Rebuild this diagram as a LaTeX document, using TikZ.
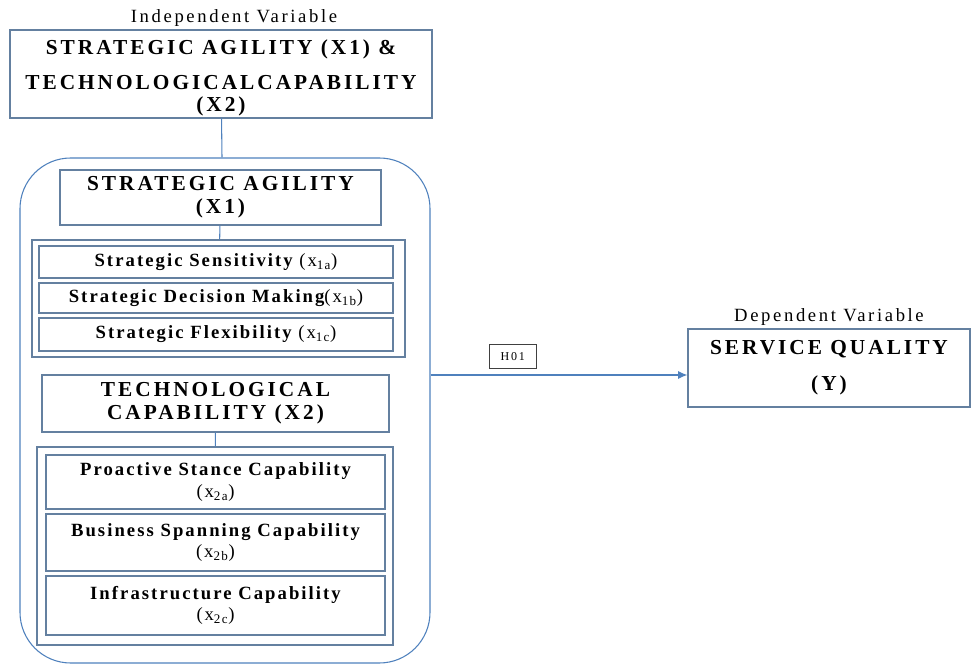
\documentclass[tikz,border=0pt]{standalone}
\usepackage{fontspec}
\setmainfont{Liberation Serif}
\newfontfamily\capfont[LetterSpace=14]{Liberation Serif}
\newfontfamily\itemfont[LetterSpace=11]{Liberation Serif}
\newfontfamily\plainfont[LetterSpace=14]{Liberation Serif}
\newfontfamily\subfont[LetterSpace=10]{Liberation Serif}
\usetikzlibrary{positioning,calc,arrows.meta}
\definecolor{lineblue}{RGB}{79,129,189}
\definecolor{boxedge}{RGB}{100,128,160}
\newcommand{\sub}[2]{{\normalfont\subfont\fontsize{14}{15}\selectfont(#1\textsubscript{#2})}}

\begin{document}
\begin{tikzpicture}[x=0.75pt, y=-0.75pt,
  hbox/.style={draw=boxedge, line width=0.8pt, align=center, inner sep=1pt,
               font=\capfont\bfseries\fontsize{16}{17}\selectfont},
  item/.style={draw=boxedge, line width=0.8pt, align=center, inner sep=1pt,
               font=\itemfont\bfseries\fontsize{14}{16}\selectfont},
  grp/.style={draw=boxedge, line width=0.8pt},
  lbl/.style={font=\plainfont\fontsize{14}{15}\selectfont, inner sep=0pt},
  con/.style={draw=lineblue, line width=0.8pt},
  arr/.style={con, -{Latex[length=7pt,width=6pt]}}
]
  \useasboundingbox (0,0) rectangle (971,666);

  % Independent variable
  \node[lbl] (ivlbl) at (234,18) {Independent Variable};
  \node[hbox, minimum width=422*0.75pt, minimum height=88*0.75pt] (iv) at (221,74)
    {\mbox{}\\STRATEGIC AGILITY (X1) \&\\[9pt] TECHNOLOGICALCAPABILITY\\(X2)};

  % outer rounded frame
  \node[grp, draw=lineblue, rounded corners=38pt, minimum width=410*0.75pt,
        minimum height=505*0.75pt] (outer) at (225,410.5) {};

  % Strategic agility
  \node[hbox, minimum width=321*0.75pt, minimum height=55*0.75pt] (sa) at (220.5,197.5)
    {STRATEGIC AGILITY\\(X1)};
  \node[grp, minimum width=373*0.75pt, minimum height=117*0.75pt] (sagrp) at (218.5,298.5) {};
  \node[item, minimum width=354*0.75pt, minimum height=32*0.75pt] (sa1) at (216,262)
    {Strategic Sensitivity \sub{x}{1a}};
  \node[item, minimum width=354*0.75pt, minimum height=30*0.75pt] (sa2) at (216,298)
    {Strategic Decision Making\sub{x}{1b}};
  \node[item, minimum width=354*0.75pt, minimum height=33*0.75pt] (sa3) at (216,334.5)
    {Strategic Flexibility \sub{x}{1c}};

  % Technological capability
  \node[hbox, minimum width=347*0.75pt, minimum height=57*0.75pt] (tc) at (215.5,403.5)
    {TECHNOLOGICAL\\CAPABILITY (X2)};
  \node[grp, minimum width=356*0.75pt, minimum height=198*0.75pt] (tcgrp) at (215,546) {};
  \node[item, minimum width=339*0.75pt, minimum height=54*0.75pt] (tc1) at (215.5,482)
    {Proactive Stance Capability\\\sub{x}{2a}};
  \node[item, minimum width=339*0.75pt, minimum height=57*0.75pt] (tc2) at (215.5,542.5)
    {Business Spanning Capability\\\sub{x}{2b}};
  \node[item, minimum width=339*0.75pt, minimum height=59*0.75pt] (tc3) at (215.5,605.5)
    {Infrastructure Capability\\\sub{x}{2c}};

  % Dependent variable
  \node[hbox, minimum width=282*0.75pt, minimum height=78*0.75pt] (sq) at (829,368)
    {SERVICE QUALITY\\[10pt](Y)};
  \node[lbl, above=2pt of sq] (dvlbl) {Dependent Variable};

  \coordinate (hy) at (0,375);
  \draw[con] (iv) -- (outer);
  \draw[con] (sa) -- (sagrp);
  \draw[con] (tc) -- (tcgrp);
  \draw[arr] (outer.east |- hy) -- node[pos=0.32, above=4.5pt, draw=black!75, fill=white,
    font=\plainfont\fontsize{9}{10}\selectfont, minimum width=47*0.75pt, minimum height=24*0.75pt,
    inner sep=1pt] (h01) {H01} (sq.west |- hy);
\end{tikzpicture}
\end{document}
